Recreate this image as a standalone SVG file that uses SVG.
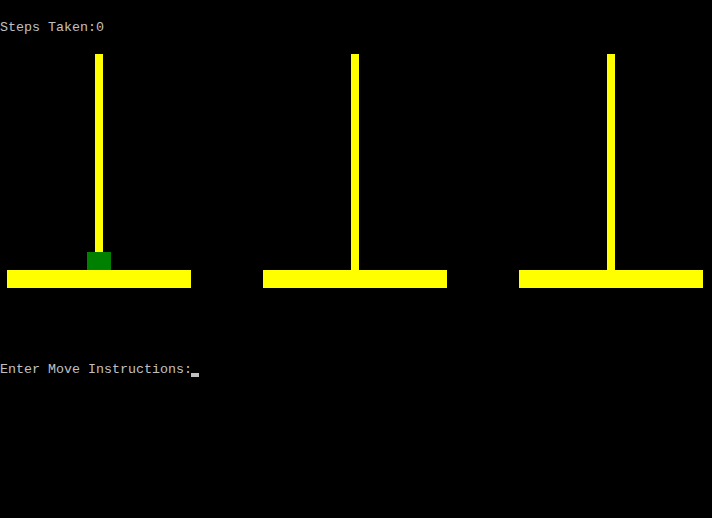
<svg xmlns="http://www.w3.org/2000/svg" width="712" height="518" viewBox="0 0 712 518">
<style>
.t{font-family:"Liberation Mono","DejaVu Sans Mono",monospace;font-size:13.33px;fill:#c0c0c0}
.y{fill:#ffff00}
</style>
<rect width="712" height="518" fill="#000"/>
<text class="t" x="0" y="31">Steps Taken:0</text>
<g id="tower1">
<rect class="y" x="95" y="54" width="8" height="216"/>
<rect class="y" x="7" y="270" width="184" height="18"/>
</g>
<g id="tower2">
<rect class="y" x="351" y="54" width="8" height="216"/>
<rect class="y" x="263" y="270" width="184" height="18"/>
</g>
<g id="tower3">
<rect class="y" x="607" y="54" width="8" height="216"/>
<rect class="y" x="519" y="270" width="184" height="18"/>
</g>
<g id="disk1">
<rect x="87" y="252" width="24" height="18" fill="#008000"/>
</g>
<g id="connectors"></g>
<text class="t" x="0" y="373">Enter Move Instructions:</text>
<rect x="191" y="373" width="8" height="4" fill="#c0c0c0"/>
</svg>
